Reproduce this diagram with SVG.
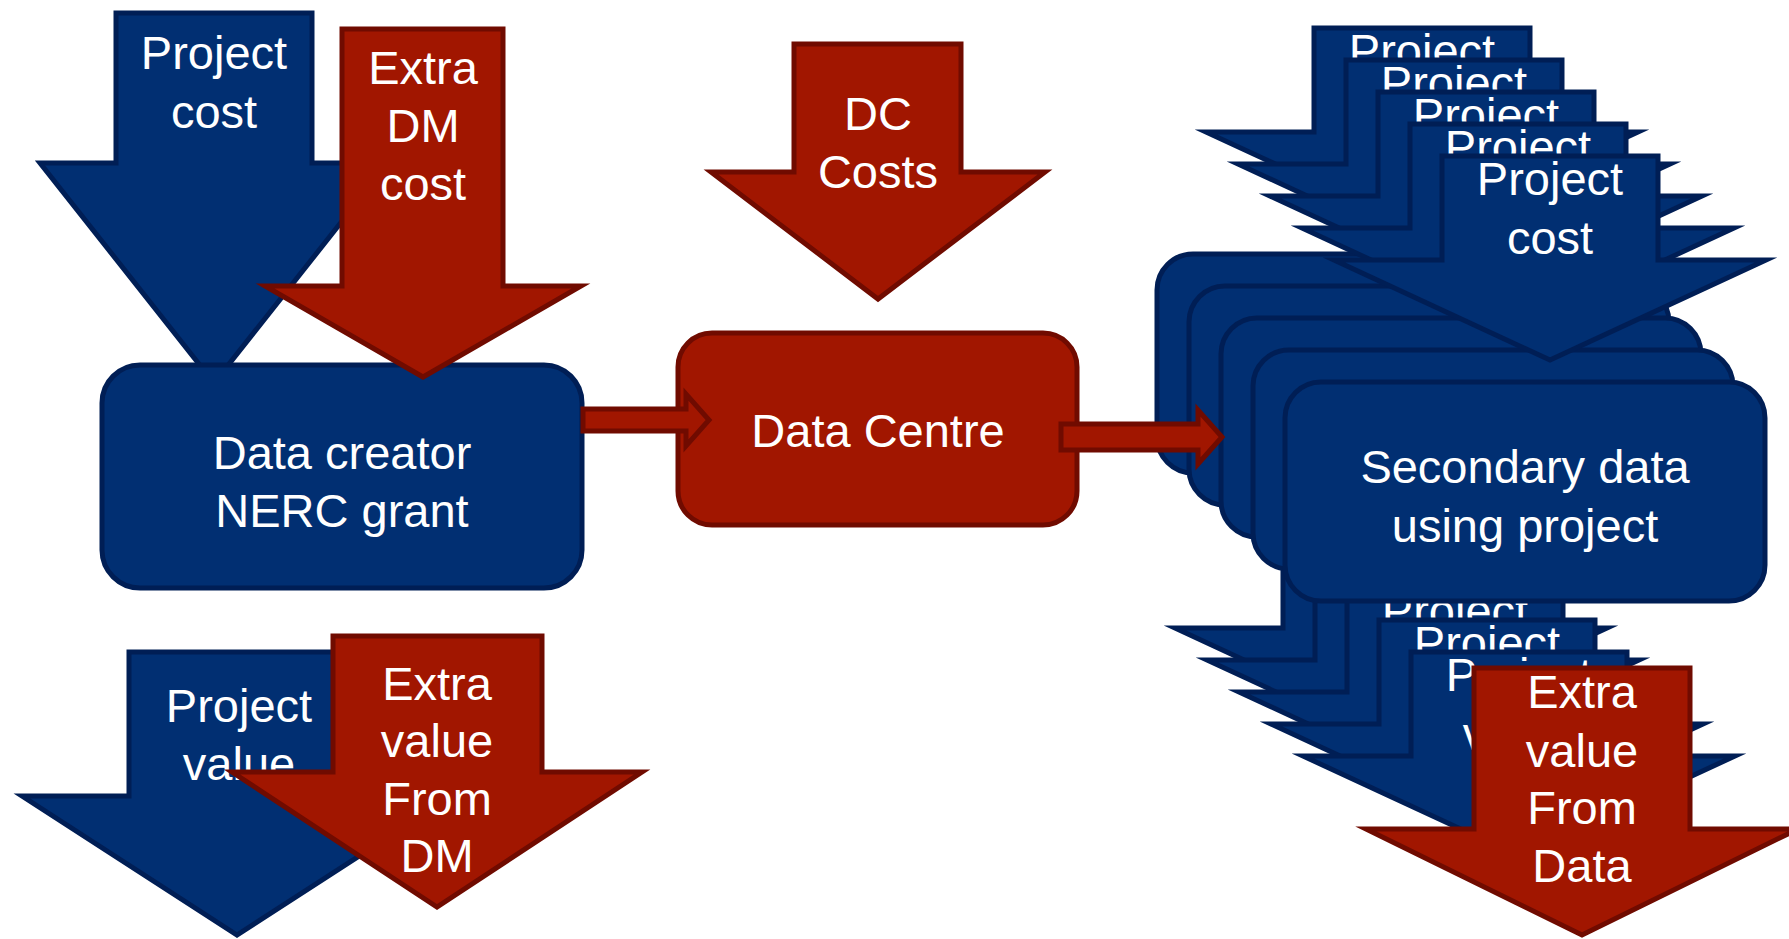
<svg xmlns="http://www.w3.org/2000/svg" width="1789" height="939" viewBox="0 0 1789 939">
<style>
.b{fill:#012F72;stroke:#001E55;stroke-width:5;stroke-linejoin:miter;stroke-miterlimit:10}
.r{fill:#A11600;stroke:#700B00;stroke-width:5;stroke-linejoin:miter;stroke-miterlimit:10}
text{font-family:"Liberation Sans",Arial,sans-serif;font-size:47px;fill:#FFFFFF;text-anchor:middle}
</style>
<rect width="1789" height="939" fill="#FFFFFF"/>
<g id="project-cost-left">
<path class="b" d="M116,13 H312 V163 H388 L214,383 L40,163 H116 Z"/>
<text x="214" y="69">Project</text>
<text x="214" y="128">cost</text>
</g>
<g id="data-creator">
<rect class="b" x="102" y="365" width="480" height="223" rx="38"/>
<text x="342" y="469">Data creator</text>
<text x="342" y="527">NERC grant</text>
</g>
<g id="extra-dm-cost">
<path class="r" d="M342,29 H503 V286 H581 L423,377 L265,286 H342 Z"/>
<text x="423" y="84">Extra</text>
<text x="423" y="142">DM</text>
<text x="423" y="200">cost</text>
</g>
<g id="dc-costs">
<path class="r" d="M794,44 H961 V172 H1045 L878,299 L711,172 H794 Z"/>
<text x="878" y="130">DC</text>
<text x="878" y="188">Costs</text>
</g>
<g id="data-centre">
<rect class="r" x="678" y="333" width="399" height="192" rx="34"/>
<text x="878" y="447">Data Centre</text>
</g>
<g id="secondary-stack">
<g id="copy-1" transform="translate(-128,-128)">
<path class="b" d="M1442,156 H1658 V260 H1766 L1550,360 L1334,260 H1442 Z"/>
<text x="1550" y="195">Project</text>
<rect class="b" x="1285" y="382" width="480" height="219" rx="36"/>
<path class="b" d="M1411,652 H1627 V756 H1735 L1519,856 L1303,756 H1411 Z"/>
</g>
<g id="copy-2" transform="translate(-96,-96)">
<path class="b" d="M1442,156 H1658 V260 H1766 L1550,360 L1334,260 H1442 Z"/>
<text x="1550" y="195">Project</text>
<rect class="b" x="1285" y="382" width="480" height="219" rx="36"/>
<path class="b" d="M1411,652 H1627 V756 H1735 L1519,856 L1303,756 H1411 Z"/>
</g>
<g id="copy-3" transform="translate(-64,-64)">
<path class="b" d="M1442,156 H1658 V260 H1766 L1550,360 L1334,260 H1442 Z"/>
<text x="1550" y="195">Project</text>
<rect class="b" x="1285" y="382" width="480" height="219" rx="36"/>
<path class="b" d="M1411,652 H1627 V756 H1735 L1519,856 L1303,756 H1411 Z"/>
<text x="1519" y="691">Project</text>
</g>
<g id="copy-4" transform="translate(-32,-32)">
<path class="b" d="M1442,156 H1658 V260 H1766 L1550,360 L1334,260 H1442 Z"/>
<text x="1550" y="195">Project</text>
<rect class="b" x="1285" y="382" width="480" height="219" rx="36"/>
<path class="b" d="M1411,652 H1627 V756 H1735 L1519,856 L1303,756 H1411 Z"/>
<text x="1519" y="691">Project</text>
</g>
<g id="copy-5">
<path class="b" d="M1442,156 H1658 V260 H1766 L1550,360 L1334,260 H1442 Z"/>
<text x="1550" y="195">Project</text>
<text x="1550" y="254">cost</text>
<rect class="b" x="1285" y="382" width="480" height="219" rx="36"/>
<text x="1525" y="483">Secondary data</text>
<text x="1525" y="542">using project</text>
<path class="b" d="M1411,652 H1627 V756 H1735 L1519,856 L1303,756 H1411 Z"/>
<text x="1519" y="691">Project</text>
<text x="1519" y="750">value</text>
</g>
</g>
<g id="connectors">
<path class="r" d="M583,409 H686 V394 L709,420 L686,446 V431 H583 Z"/>
<path class="r" d="M1061,424 H1198 V410 L1222,437 L1198,464 V450 H1061 Z"/>
</g>
<g id="extra-value-data">
<path class="r" d="M1474,668 H1690 V829 H1798 L1582,935 L1366,829 H1474 Z"/>
<text x="1582" y="708">Extra</text>
<text x="1582" y="767">value</text>
<text x="1582" y="824">From</text>
<text x="1582" y="882">Data</text>
</g>
<g id="project-value-left">
<path class="b" d="M129,652 H345 V796 H452 L237,935 L22,796 H129 Z"/>
<text x="239" y="722">Project</text>
<text x="239" y="780">value</text>
</g>
<g id="extra-value-dm">
<path class="r" d="M333,636 H542 V772 H642 L437,907 L232,772 H333 Z"/>
<text x="437" y="700">Extra</text>
<text x="437" y="757">value</text>
<text x="437" y="815">From</text>
<text x="437" y="872">DM</text>
</g>
</svg>
